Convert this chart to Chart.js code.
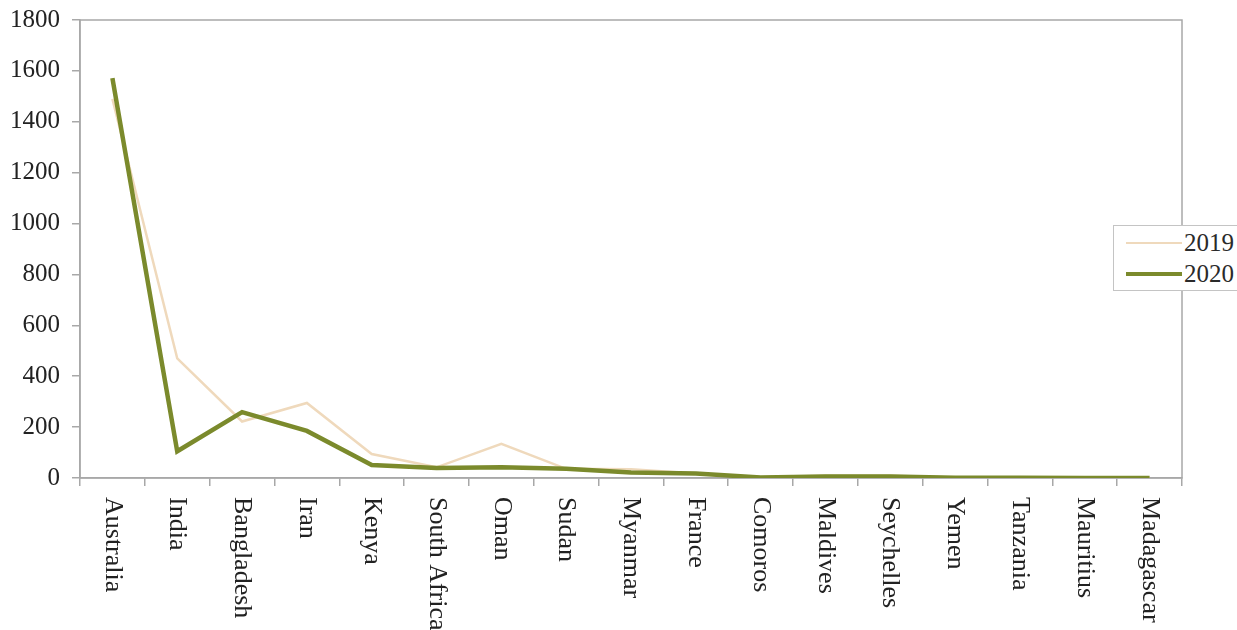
<!DOCTYPE html>
<html>
<head>
<meta charset="utf-8">
<script src="https://cdn.jsdelivr.net/npm/chart.js@4/dist/chart.umd.min.js"></script>
<style>
    html, body { margin: 0; padding: 0; background: #fff; }
    #wrap { position: relative; width: 1237px; height: 630px; overflow: hidden; }
    #legend {
        position: absolute; left: 1113px; top: 225px; width: 140px; height: 66px;
        border: 1px solid #c4c4c4; background: #fff; box-sizing: border-box;
        font-family: "Liberation Serif", "DejaVu Serif", serif; font-size: 25px; color: #2a2a2a;
    }
    .row { position: absolute; left: 0; height: 28px; line-height: 28px; }
    .swatch { position: absolute; left: 12px; width: 56px; }
    .lbl { position: absolute; left: 70px; }
</style>
</head>
<body>
<div id="wrap">
    <canvas id="chart" width="1237" height="630"></canvas>
    <div id="legend">
        <div class="row" style="top:3px">
            <div class="swatch" style="top:13px;height:2px;background:#efd9bc"></div>
            <span class="lbl">2019</span>
        </div>
        <div class="row" style="top:34px">
            <div class="swatch" style="top:12px;height:4px;background:#7b8a2c"></div>
            <span class="lbl">2020</span>
        </div>
    </div>
</div>
<script>
const countries = ['Australia', 'India', 'Bangladesh', 'Iran', 'Kenya', 'South Africa', 'Oman', 'Sudan',
    'Myanmar', 'France', 'Comoros', 'Maldives', 'Seychelles', 'Yemen', 'Tanzania', 'Mauritius', 'Madagascar'];
const values2019 = [1490, 470, 222, 295, 94, 42, 134, 36, 34, 18, 3, 9, 9, 2, 1, 1, 1];
const values2020 = [1572, 105, 259, 185, 51, 39, 42, 36, 22, 18, 2, 6, 6, 1, 1, 0, 0];
const yTicks = [0, 200, 400, 600, 800, 1000, 1200, 1400, 1600, 1800];

const serif = '"Liberation Serif", "DejaVu Serif", serif';
const axisGrey = '#a8a8a8';

// box round the plot area (top and right edges)
const frame = {
    id: 'frame',
    beforeDatasetsDraw(chart) {
        const a = chart.chartArea;
        const ctx = chart.ctx;
        ctx.save();
        ctx.strokeStyle = axisGrey;
        ctx.lineWidth = 1.5;
        ctx.strokeRect(a.left, a.top, a.right - a.left, a.bottom - a.top);
        ctx.restore();
    }
};

// x labels read top to bottom, so draw them ourselves
const downLabels = {
    id: 'downLabels',
    afterDraw(chart) {
        const scale = chart.scales.x;
        const ctx = chart.ctx;
        ctx.save();
        ctx.font = '26px ' + serif;
        ctx.fillStyle = '#222';
        ctx.textAlign = 'left';
        ctx.textBaseline = 'middle';
        countries.forEach((name, i) => {
            const x = scale.getPixelForValue(i);
            ctx.save();
            ctx.translate(x, scale.top + 19);
            ctx.rotate(Math.PI / 2);
            ctx.fillText(name, 0, 0);
            ctx.restore();
        });
        ctx.restore();
    }
};

new Chart(document.getElementById('chart'), {
    type: 'line',
    data: {
        labels: countries,
        datasets: [
            {
                label: '2019',
                data: values2019,
                borderColor: '#efd9bc',
                borderWidth: 2.5,
                pointRadius: 0,
                tension: 0,
                order: 2
            },
            {
                label: '2020',
                data: values2020,
                borderColor: '#7b8a2c',
                borderWidth: 4.5,
                pointRadius: 0,
                tension: 0,
                order: 1
            }
        ]
    },
    options: {
        responsive: false,
        animation: false,
        layout: { padding: { top: 20, right: 55, left: 0, bottom: 0 } },
        plugins: { legend: { display: false }, tooltip: { enabled: false } },
        scales: {
            x: {
                offset: true,
                grid: { drawOnChartArea: false, offset: true, tickLength: 8, color: axisGrey, lineWidth: 1.5 },
                border: { color: axisGrey, width: 1.5 },
                ticks: { autoSkip: false, maxRotation: 0, color: 'transparent', font: { size: 10 } },
                afterFit(scale) { scale.height = 152; }
            },
            y: {
                min: 0,
                max: 1800,
                afterBuildTicks(scale) { scale.ticks = yTicks.map(v => ({ value: v })); },
                grid: { drawOnChartArea: false, tickLength: 8, color: axisGrey, lineWidth: 1.5 },
                border: { color: axisGrey, width: 1.5 },
                ticks: {
                    color: '#222',
                    padding: 12,
                    font: { family: serif, size: 25 },
                    callback: v => String(v)
                },
                afterFit(scale) {
                    scale.width = 80;
                    scale.paddingTop = 0;
                    scale.paddingBottom = 0;
                }
            }
        }
    },
    plugins: [frame, downLabels]
});
</script>
</body>
</html>
